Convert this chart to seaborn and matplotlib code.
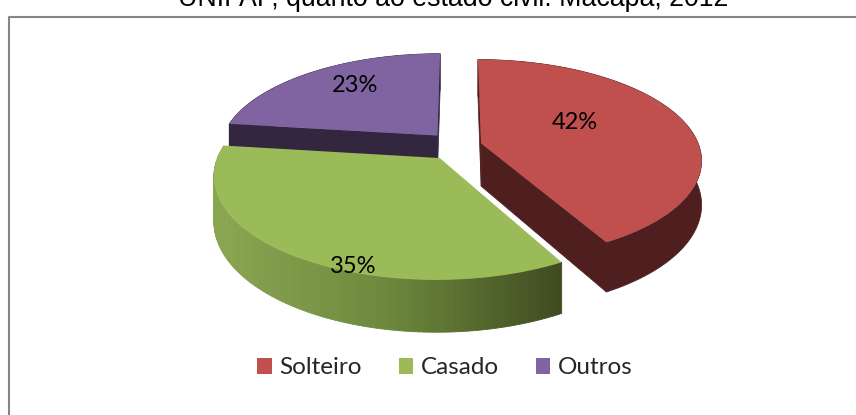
import numpy as np
import matplotlib
matplotlib.use("Agg")
import matplotlib.pyplot as plt
import matplotlib.transforms as mtransforms
import seaborn as sns

title = "UNIFAP, quanto ao estado civil. Macapá, 2012"
categories = ["Solteiro", "Casado", "Outros"]
values = [42, 35, 23]
colors = ["#c0504d", "#9bbb59", "#8064a2"]
explode = [0.11, 0.146, 0.146]

sns.set_theme(style="white")
plt.rcParams["font.family"] = ["Lato", "DejaVu Sans"]


# Tilted disc, far edge smaller than near edge
def project(u, v, drop=0.0):
    w = 1 + 0.16 * np.asarray(v)
    return 458 + 218 * np.asarray(u) / w, 146 + (drop - 98 * np.asarray(v)) / w


class Tilt(mtransforms.Transform):
    input_dims = 2
    output_dims = 2

    def transform_non_affine(self, xy):
        x, y = project(xy[:, 0], xy[:, 1])
        return np.column_stack([x, y])


fig, ax = plt.subplots(figsize=(8.56, 4.15), dpi=100)
fig.subplots_adjust(0, 0, 1, 1)

wedges, _, pct = ax.pie(
    values,
    colors=sns.color_palette(colors),
    explode=explode,
    startangle=90,
    counterclock=False,
    autopct="%.0f%%",
    wedgeprops={"linewidth": 0},
)
ax.set_aspect("auto")
ax.set_xlim(0, 856)
ax.set_ylim(415, 0)
ax.axis("off")

depth = 43
wall_colors = ["#4f1e1e", None, "#33263f"]
layers = {0: 5, 1: 3, 2: 1}

for i, wedge in enumerate(wedges):
    wedge.set_transform(Tilt() + ax.transData)
    wedge.set_zorder(layers[i] + 1)
    cx, cy = wedge.center
    t = np.radians(np.linspace(wedge.theta1, wedge.theta2, 121))
    u = cx + np.cos(t)
    v = cy + np.sin(t)
    top_x, top_y = project(u, v)
    low_x, low_y = project(u, v, depth)

    if wall_colors[i] is not None:
        # radial faces first, then the outer rim
        for k in [0, -1]:
            ax_x, ax_y = project(np.array([cx, u[k]]), np.array([cy, v[k]]))
            bx_x, bx_y = project(np.array([cx, u[k]]), np.array([cy, v[k]]), depth)
            ax.fill(
                [ax_x[0], ax_x[1], bx_x[1], bx_x[0]],
                [ax_y[0], ax_y[1], bx_y[1], bx_y[0]],
                color=wall_colors[i],
                lw=0.5,
                zorder=layers[i],
            )
        ax.fill(
            np.r_[top_x, low_x[::-1]],
            np.r_[top_y, low_y[::-1]],
            color=wall_colors[i],
            lw=0.5,
            zorder=layers[i],
        )
    else:
        # green rim gets a left to right gradient
        ramp = sns.blend_palette(["#8aa652", "#6d883c", "#3e4b20"], 120)
        for k in range(120):
            frac = (top_x[k] - top_x.min()) / (top_x.max() - top_x.min())
            ax.fill(
                [top_x[k], top_x[k + 1], low_x[k + 1], low_x[k]],
                [top_y[k], top_y[k + 1], low_y[k + 1], low_y[k]],
                color=ramp[min(int(frac * 120), 119)],
                lw=0.6,
                zorder=layers[i],
            )

label_spots = [(575, 122), (353, 266), (355, 86)]
for text, spot in zip(pct, label_spots):
    text.set_position(spot)
    text.set_fontsize(17)
    text.set_color("black")
    text.set_zorder(10)
    text.set_ha("center")
    text.set_va("center")

ax.text(
    453, 6, title, family="Liberation Sans", fontsize=19.3,
    ha="center", va="baseline", color="black", zorder=10,
)

# Chart frame
ax.plot([9.5, 9.5, 856], [415, 17, 17], color="#868686", lw=1.5, zorder=0)

ax.legend(
    wedges,
    categories,
    ncol=3,
    loc="center",
    bbox_to_anchor=(445 / 856, 1 - 368 / 415),
    frameon=False,
    fontsize=17.5,
    handlelength=0.6,
    handleheight=0.6,
    handletextpad=0.33,
    columnspacing=1.5,
)

plt.savefig("out.png", dpi=100)
